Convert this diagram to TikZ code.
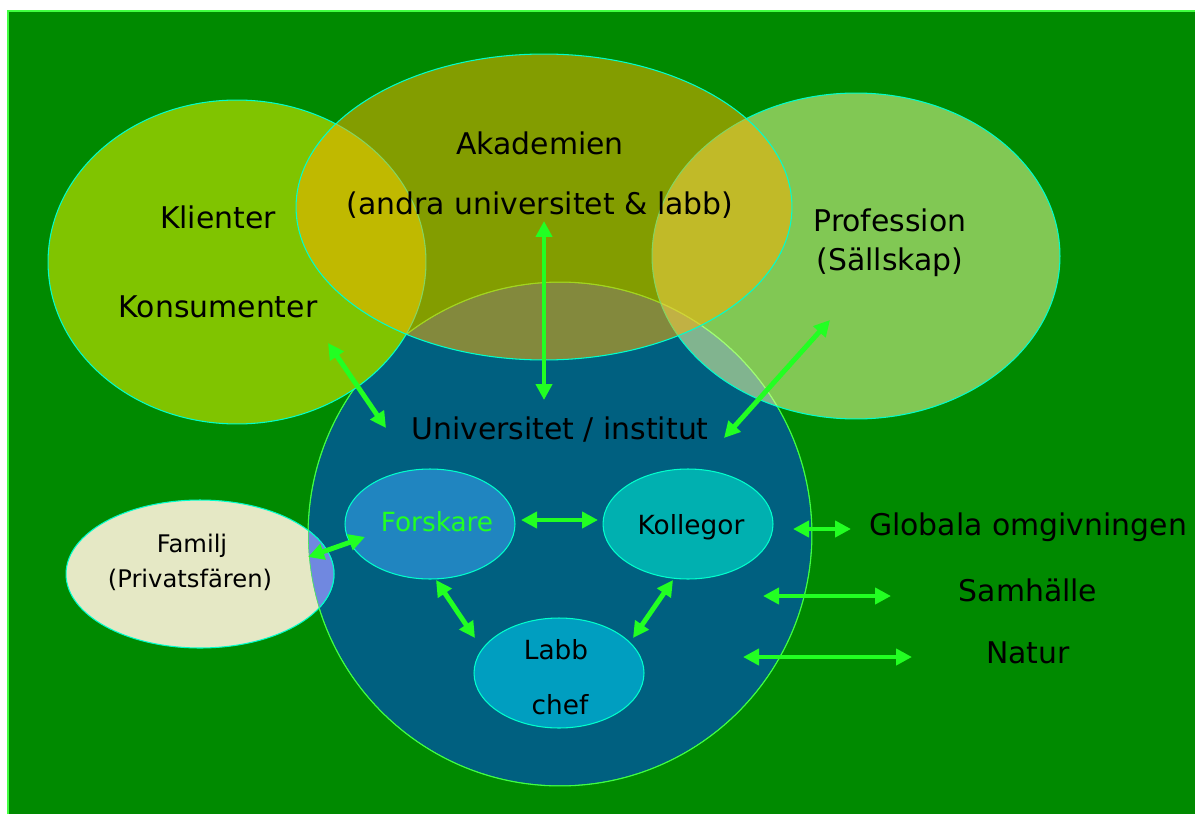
\documentclass[tikz,border=0pt]{standalone}
\usepackage{fontspec}
\setmainfont{DejaVu Sans}
\usetikzlibrary{shapes.geometric}
\usetikzlibrary{arrows.meta}
\definecolor{bggreen}{RGB}{0,138,0}
\definecolor{klgreen}{RGB}{128,196,0}
\definecolor{akorange}{RGB}{252,175,0}
\definecolor{prgreen}{RGB}{240,253,157}
\definecolor{unblue}{RGB}{0,96,128}
\definecolor{fmcream}{RGB}{229,232,197}
\definecolor{fmblue}{RGB}{112,136,224}
\definecolor{fsblue}{RGB}{32,133,192}
\definecolor{koteal}{RGB}{0,176,176}
\definecolor{lcblue}{RGB}{0,158,192}
\definecolor{arrgreen}{RGB}{34,255,34}
\definecolor{rimcyan}{RGB}{0,255,204}
\definecolor{rimgreen}{RGB}{64,255,64}
\tikzset{
    blob/.style = {ellipse, inner sep=0pt, outer sep=0pt, draw=rimcyan, line width=0.6pt},
    bigtxt/.style = {font=\fontsize{17}{20}\selectfont, inner sep=0pt},
    midtxt/.style = {font=\fontsize{15}{18}\selectfont, inner sep=0pt},
    smalltxt/.style = {font=\fontsize{13.8}{16}\selectfont, inner sep=0pt},
    edgeg/.style = {{Triangle[length=0.32cm,width=0.32cm]}-{Triangle[length=0.32cm,width=0.32cm]}, line width=2.8pt, arrgreen}, % both ways
}

\begin{document}
\begin{tikzpicture}[x=0.02cm, y=-0.02cm]
\useasboundingbox (0,0) rectangle (1195,814);
\fill[bggreen] (8,11) rectangle (1195,814);
\draw[rimgreen, line width=0.8pt] (8,814) -- (8,11) -- (1195,11);
%
\node[blob, circle, minimum size=10.08cm, fill=unblue, draw=rimgreen] at (560,534) (uni) {};
\node[blob, minimum width=5.36cm, minimum height=2.96cm, fill=fmcream] at (200,574) (fam) {};
\begin{scope}
\clip (uni.center) circle [radius=5.04cm];
\fill[fmblue] (fam.center) ellipse [x radius=2.68cm, y radius=1.48cm];
\draw[rimcyan, line width=0.6pt] (fam.center) ellipse [x radius=2.68cm, y radius=1.48cm];
\draw[rimgreen, line width=0.6pt] (uni.center) circle [radius=5.04cm];
\end{scope}
\node[blob, minimum width=7.56cm, minimum height=6.48cm, fill=klgreen] at (237,262) (kli) {};
\node[blob, minimum width=8.16cm, minimum height=6.52cm, fill=prgreen, fill opacity=0.54] at (856,256) (pro) {};
\node[blob, minimum width=9.92cm, minimum height=6.12cm, fill=akorange, fill opacity=0.52] at (544,207) (aka) {};
%
\node[blob, minimum width=3.4cm, minimum height=2.2cm, fill=fsblue] at (430,524) (fo) {};
\node[blob, minimum width=3.4cm, minimum height=2.2cm, fill=koteal] at (688,524) (ko) {};
\node[blob, minimum width=3.4cm, minimum height=2.2cm, fill=lcblue] at (559,673) (lc) {};
%
\node[bigtxt] at (540,143) (t-aka1) {Akademien};
\node[bigtxt] at (540,205) (t-aka2) {(andra universitet \& labb)};
\node[bigtxt] at (218,217) (t-kli1) {Klienter};
\node[bigtxt] at (218,307) (t-kli2) {Konsumenter};
\node[bigtxt] at (890,220) (t-pro1) {Profession};
\node[bigtxt] at (890,262) (t-pro2) {(Sällskap)};
\node[bigtxt] at (560,430) (t-uni) {Universitet / institut};
\node[midtxt, text=arrgreen] at (437,522) (t-fo) {Forskare};
\node[midtxt] at (691,527) (t-ko) {Kollegor};
\node[midtxt] at (556,650) (t-lc1) {Labb};
\node[midtxt] at (560,705) (t-lc2) {chef};
\node[smalltxt] at (192,546) (t-fam1) {Familj};
\node[smalltxt] at (190,580) (t-fam2) {(Privatsfären)};
\node[bigtxt] at (1028,527) (t-glo) {Globala omgivningen};
\node[bigtxt] at (1028,590) (t-sam) {Samhälle};
\node[bigtxt] at (1028,653) (t-nat) {Natur};
%
\coordinate (a1) at (328,343); \coordinate (a2) at (386,428);
\coordinate (b1) at (544,221); \coordinate (b2) at (544,400);
\coordinate (c1) at (830,320); \coordinate (c2) at (724,438);
\coordinate (d1) at (521,520); \coordinate (d2) at (598,520);
\coordinate (e1) at (436,580); \coordinate (e2) at (475,638);
\coordinate (f1) at (673,580); \coordinate (f2) at (633,638);
\coordinate (g1) at (308,557); \coordinate (g2) at (365,537);
\coordinate (h1) at (793,529); \coordinate (h2) at (851,529);
\coordinate (i1) at (763,596); \coordinate (i2) at (891,596);
\coordinate (j1) at (743,657); \coordinate (j2) at (912,657);
%
\draw[edgeg] (a1) -- (a2);
\draw[edgeg] (b1) -- (b2);
\draw[edgeg] (c1) -- (c2);
\draw[edgeg] (d1) -- (d2);
\draw[edgeg] (e1) -- (e2);
\draw[edgeg] (f1) -- (f2);
\draw[edgeg] (g1) -- (g2);
\draw[edgeg] (h1) -- (h2);
\draw[edgeg] (i1) -- (i2);
\draw[edgeg] (j1) -- (j2);

\end{tikzpicture}
\end{document}
